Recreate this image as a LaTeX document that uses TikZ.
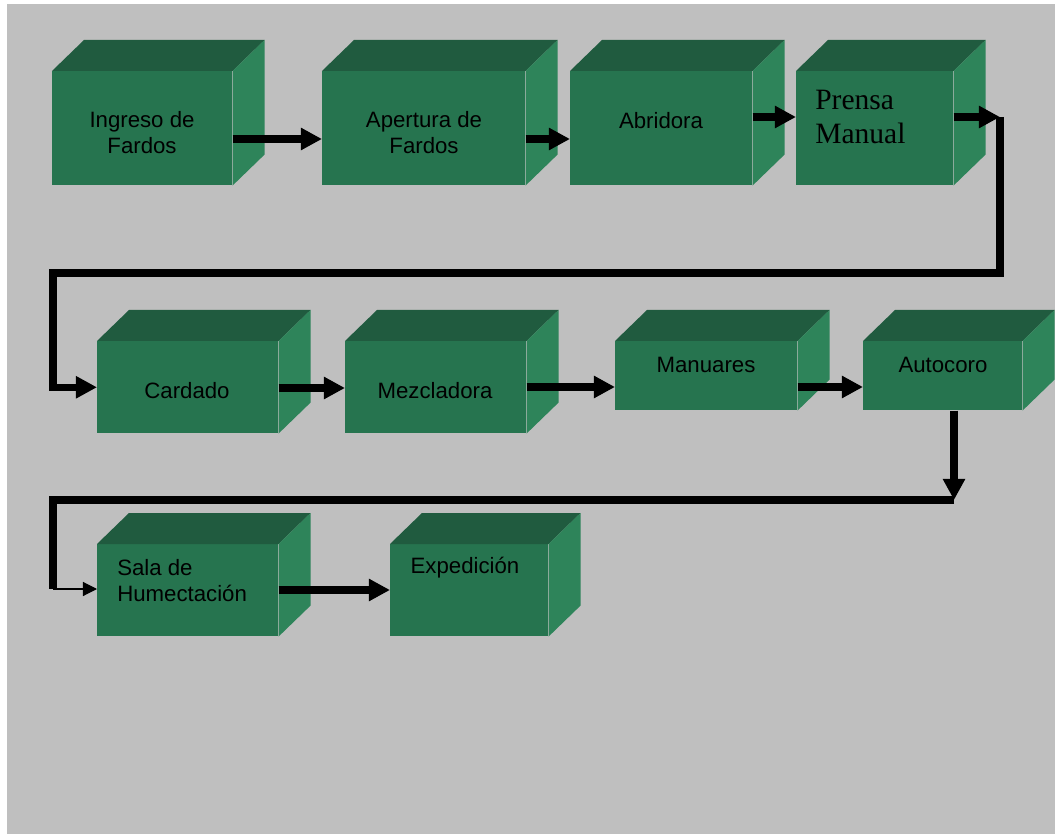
\documentclass[tikz,border=0pt]{standalone}
\usepackage{fontspec}
\setmainfont{Liberation Sans}
\newfontfamily\timesfont{Liberation Serif}
\usetikzlibrary{arrows.meta}

\definecolor{bggray}{RGB}{191,191,191}
\definecolor{frontgreen}{RGB}{38,116,79}
\definecolor{topgreen}{RGB}{32,91,63}
\definecolor{sidegreen}{RGB}{46,132,90}

\tikzset{
  box/.style 2 args={fill=frontgreen, draw=none, inner sep=0pt, anchor=north west,
    minimum width=#1*0.025cm, minimum height=#2*0.025cm},
  lbl/.style={font=\fontsize{15.8}{18.5}\selectfont, align=center, inner sep=0pt},
  flow/.style={line width=5.2pt, -{Triangle[length=15pt,width=15pt]}},
  link/.style={line width=5.2pt},
  thinflow/.style={line width=0.8pt, -{Triangle[length=10pt,width=10pt]}}
}

% top and side faces of a box
\newcommand\boxfaces[1]{%
  \fill[topgreen] (#1.north west) -- ([shift={(32,-31)}]#1.north west)
    -- ([shift={(32,-31)}]#1.north east) -- (#1.north east) -- cycle;
  \fill[sidegreen] (#1.north east) -- ([shift={(32,-31)}]#1.north east)
    -- ([shift={(32,-31)}]#1.south east) -- (#1.south east) -- cycle;}

\begin{document}
\begin{tikzpicture}[x=0.025cm, y=-0.025cm]
    \useasboundingbox (0,0) rectangle (1055,834);
    \fill[bggray] (7,4) rectangle (1055,834);

    % first row
    \node[box={180}{114}] (ingreso)  at (52,71)  {};  \boxfaces{ingreso}
    \node[box={203}{114}] (apertura) at (322,71) {};  \boxfaces{apertura}
    \node[box={182}{114}] (abridora) at (570,71) {};  \boxfaces{abridora}
    \node[box={157}{114}] (prensa)   at (796,71) {};  \boxfaces{prensa}

    % second row
    \node[box={181}{92}] (cardado)  at (97,341)  {};  \boxfaces{cardado}
    \node[box={181}{92}] (mezcla)   at (345,341) {};  \boxfaces{mezcla}
    \node[box={182}{69}] (manuares) at (615,341) {};  \boxfaces{manuares}
    \node[box={159}{69}] (autocoro) at (863,341) {};  \boxfaces{autocoro}

    % third row
    \node[box={181}{92}] (sala)       at (97,544)  {};  \boxfaces{sala}
    \node[box={158}{92}] (expedicion) at (390,544) {};  \boxfaces{expedicion}

    % labels
    \node[lbl] (tingreso)  at (142,133) {Ingreso de\\Fardos};
    \node[lbl] (tapertura) at (424,133) {Apertura de\\Fardos};
    \node[lbl] (tabridora) at (661,121) {Abridora};
    \node[lbl, anchor=west, align=left, font=\timesfont\fontsize{21}{23.5}\selectfont]
        (tprensa) at (815,117) {Prensa\\Manual};
    \node[lbl] (tcardado)  at (187,391) {Cardado};
    \node[lbl] (tmezcla)   at (435,391) {Mezcladora};
    \node[lbl] (tmanuares) at (706,365) {Manuares};
    \node[lbl] (tautocoro) at (943,365) {Autocoro};
    \node[lbl, anchor=west, align=left] (tsala) at (117,581) {Sala de\\Humectación};
    \node[lbl] (texpedicion) at (465,568) {Expedición};

    % turning points
    \coordinate (turn1) at (1000,117);
    \coordinate (turn2) at (53,273);
    \coordinate (turn3) at (954,500);
    \coordinate (turn4) at (53,500);
    \coordinate (turn5) at (53,589);

    % connectors
    \draw[flow] (ingreso.east |- 0,139) -- (apertura.west |- 0,139);
    \draw[flow] (apertura.east |- 0,139) -- (abridora.west |- 0,139);
    \draw[flow] (abridora.east |- turn1) -- (prensa.west |- turn1);
    \draw[flow] (prensa.east |- turn1) -- (turn1);
    \draw[flow] (turn1) |- (turn2) |- (cardado.west);

    \draw[flow] (cardado.east |- 0,388) -- (mezcla.west |- 0,388);
    \draw[flow] (mezcla.east |- 0,387) -- (manuares.west |- 0,387);
    \draw[flow] (manuares.east |- 0,387) -- (autocoro.west |- 0,387);
    \draw[flow] (autocoro.south -| turn3) -- (turn3);
    \draw[link] (turn3) -- (turn4) -- (turn5);
    \draw[thinflow] (turn5) -- (sala.west |- turn5);

    \draw[flow] (sala.east |- 0,590) -- (expedicion.west |- 0,590);
\end{tikzpicture}
\end{document}
